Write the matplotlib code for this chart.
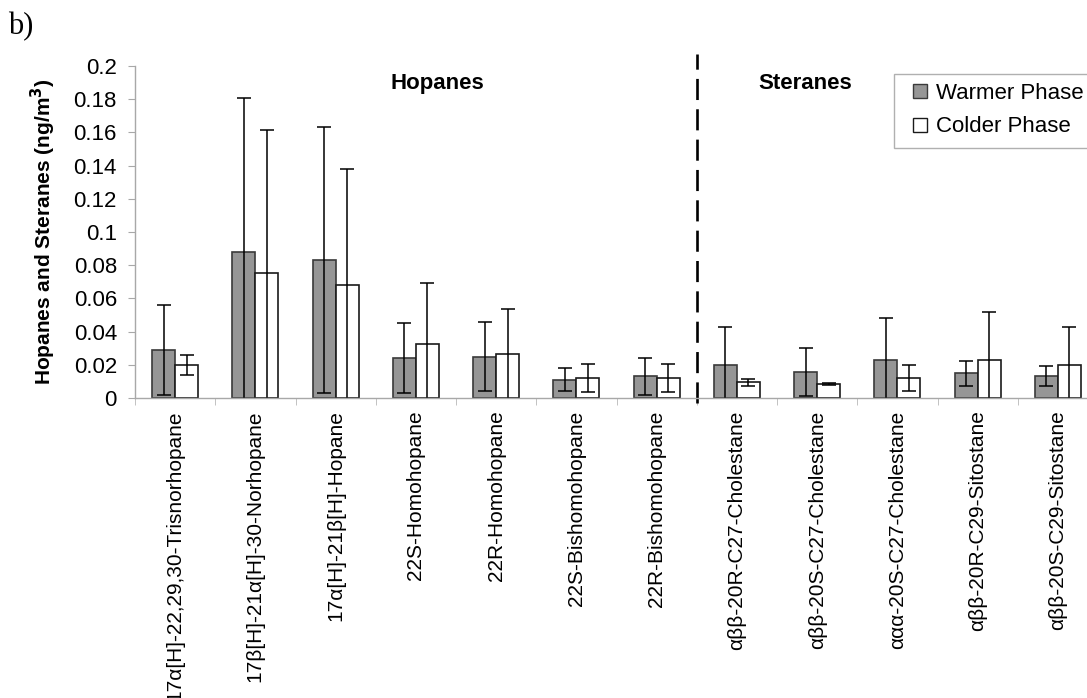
import numpy as np
import matplotlib
matplotlib.use('Agg')
import matplotlib.pyplot as plt
from matplotlib.patches import Patch, Rectangle

# %% Data (ng/m3)
compounds = ['17α[H]-22,29,30-Trisnorhopane', '17β[H]-21α[H]-30-Norhopane',
             '17α[H]-21β[H]-Hopane', '22S-Homohopane', '22R-Homohopane',
             '22S-Bishomohopane', '22R-Bishomohopane',
             'αββ-20R-C27-Cholestane', 'αββ-20S-C27-Cholestane',
             'ααα-20S-C27-Cholestane', 'αββ-20R-C29-Sitostane',
             'αββ-20S-C29-Sitostane']
warm = [0.029, 0.088, 0.083, 0.024, 0.025, 0.011, 0.013,
        0.020, 0.0155, 0.023, 0.015, 0.013]
warm_err = [0.027, 0.093, 0.080, 0.021, 0.021, 0.007, 0.011,
            0.023, 0.0145, 0.025, 0.0075, 0.006]
cold = [0.020, 0.0755, 0.068, 0.0325, 0.0265, 0.012, 0.012,
        0.0094, 0.0086, 0.012, 0.023, 0.020]
cold_err = [0.006, 0.086, 0.070, 0.037, 0.027, 0.0085, 0.0085,
            0.002, 0.0005, 0.0077, 0.029, 0.023]
yticks = [0, 0.02, 0.04, 0.06, 0.08, 0.1, 0.12, 0.14, 0.16, 0.18, 0.2]
ytick_labels = ['0', '0.02', '0.04', '0.06', '0.08', '0.1',
                '0.12', '0.14', '0.16', '0.18', '0.2']
n_hopanes = 7

# %% Plot
plt.rcParams['font.family'] = ['Liberation Sans', 'DejaVu Sans']

W, H = 1087, 698
fig = plt.figure(figsize=(W / 100, H / 100), dpi=100)
ax = fig.add_axes([135 / W, 1 - 398 / H, 963 / W, 332 / H])

x = np.arange(len(compounds))
w = 0.286
err_kw = dict(ecolor='black', elinewidth=1.1, capsize=5, capthick=1.1)

ax.bar(x - w / 2, warm, w, yerr=warm_err, color='#969696',
       edgecolor='#3a3a3a', linewidth=1.2, error_kw=err_kw,
       label='Warmer Phase')
ax.bar(x + w / 2, cold, w, yerr=cold_err, color='white',
       edgecolor='#1a1a1a', linewidth=1.2, error_kw=err_kw,
       label='Colder Phase')

ax.set_xlim(-0.5, len(compounds) - 0.5)
ax.set_ylim(0, 0.2)

# Axis styling
for s in ['top', 'right']:
    ax.spines[s].set_visible(False)
for s in ['left', 'bottom']:
    ax.spines[s].set_color('#a8a8a8')
    ax.spines[s].set_linewidth(1.0)

ax.set_yticks(yticks)
ax.set_yticklabels(ytick_labels, fontsize=16)
ax.tick_params(axis='y', direction='out', length=5, color='#a8a8a8', pad=8)

ax.set_xticks(x)
ax.set_xticklabels(compounds, rotation=90, fontsize=15, va='top')
ax.set_xticks(np.arange(len(compounds) + 1) - 0.5, minor=True)
ax.tick_params(axis='x', which='major', length=0, pad=9)
ax.tick_params(axis='x', which='minor', direction='out', length=5,
               color='#b8b8b8')

ax.set_ylabel('Hopanes and Steranes (ng/m$^\\mathbf{3}$)', fontsize=15,
              fontweight='bold')
ax.yaxis.set_label_coords((58 - 135) / 963, 0.5)

# Separator between the groups
ax.plot([n_hopanes - 0.5, n_hopanes - 0.5], [-0.003, 0.2072], color='black',
        linewidth=1.9, dashes=(8, 3.5), clip_on=False)

ax.text(3.27, 0.1892, 'Hopanes', fontsize=16, fontweight='bold',
        ha='center', va='center')
ax.text(7.85, 0.1892, 'Steranes', fontsize=16, fontweight='bold',
        ha='center', va='center')

# Legend: frame drawn by hand, it runs past the right edge
fig.patches.append(Rectangle((894 / W, 1 - 148 / H), 220 / W, 74 / H,
                             transform=fig.transFigure, facecolor='white',
                             edgecolor='#b0b0b0', linewidth=1.0, zorder=2))
handles = [Patch(facecolor='#969696', edgecolor='#3a3a3a', linewidth=1.0),
           Patch(facecolor='white', edgecolor='#1a1a1a', linewidth=1.0)]
leg = fig.legend(handles, ['Warmer Phase', 'Colder Phase'],
                 loc='upper left', bbox_to_anchor=(911 / W, 1 - 81 / H),
                 fontsize=16, frameon=False,
                 handlelength=0.6, handleheight=0.6, handletextpad=0.42,
                 borderpad=0.1, labelspacing=0.55, borderaxespad=0)
leg.set_zorder(3)

fig.text(8 / W, 1 - 27 / H, 'b)', fontsize=22,
         family='Liberation Serif', ha='left', va='center')

fig.savefig('out.png', dpi=100)
